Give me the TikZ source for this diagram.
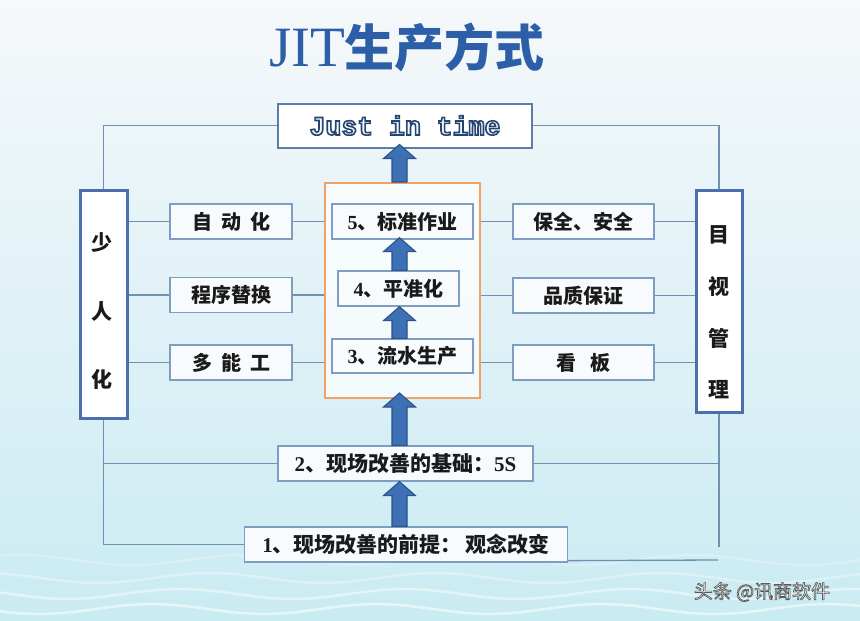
\documentclass[tikz,border=0pt]{standalone}
\usepackage{fontspec}
\setmainfont{Liberation Serif}
\newfontfamily\cjk{Noto Sans CJK SC}
\newfontfamily\jmono{Liberation Mono}
\usetikzlibrary{calc}
\definecolor{bgtop}{HTML}{F6F8FA}
\definecolor{bgmid}{HTML}{E8F4F7}
\definecolor{bgbot}{HTML}{C9EBF2}
\definecolor{lineblue}{HTML}{6F8FB3}
\definecolor{boxblue}{HTML}{7F9DC0}
\definecolor{sideblue}{HTML}{4B6FAE}
\definecolor{boxfill}{HTML}{F8FBFD}
\definecolor{orangeb}{HTML}{EFA266}
\definecolor{arrfill}{HTML}{3E70B6}
\definecolor{arrdraw}{HTML}{2B528D}
\definecolor{titleblue}{HTML}{2C5FA8}
\definecolor{txt}{HTML}{1A1A1A}
\definecolor{jitline}{HTML}{5A7EA8}
\definecolor{jitfill}{HTML}{F2F7FC}
% outlined text: fill colour from \textcolor, stroke set by PDF literal
\newcommand\outlinetext[4]{\textcolor{#2}{\special{pdf:literal direct #3 RG #4 w 2 Tr}#1\special{pdf:literal direct 0 Tr}}}
\newcommand\lat[1]{{\rmfamily\bfseries #1}}
\newcommand\barrow[2]{%
  \filldraw[arrfill, draw=arrdraw, line width=1.1pt] let \p1=(#1), \p2=(#2) in
    (\x1-7.5pt,\y1) -- (\x1-7.5pt,\y2-14pt) -- (\x1-16pt,\y2-14pt) -- (\x1,\y2)
    -- (\x1+16pt,\y2-14pt) -- (\x1+7.5pt,\y2-14pt) -- (\x1+7.5pt,\y1) -- cycle;}
\tikzset{
  conn/.style={draw=lineblue, line width=1.3pt},
  sbox/.style={draw=boxblue, line width=1.3pt, fill=boxfill, inner sep=0pt,
    font=\cjk\bfseries\fontsize{20}{24}\selectfont, text=txt},
  sidebox/.style={draw=sideblue, line width=3pt, fill=white, inner sep=0pt},
  sidetext/.style={font=\cjk\bfseries\fontsize{21}{25}\selectfont, text=txt, align=center, inner sep=0pt},
  wave/.style={white, line width=2.5pt, opacity=0.45},
}
\begin{document}
\begin{tikzpicture}[x=1pt,y=-1pt]
\useasboundingbox (0,0) rectangle (860,621);
% background
\shade[top color=bgtop, middle color=bgmid, bottom color=bgbot] (0,0) rectangle (860,621);
\foreach \yy/\op in {560/0.25,578/0.35,594/0.45,609/0.55}{
  \draw[wave, opacity=\op] plot[domain=0:860, samples=120] (\x, {\yy + 5*sin(\x*1.6+\yy*3)});
}
% title
\node[inner sep=0pt, text=titleblue] (title) at (407,47)
  {\fontsize{57}{60}\selectfont JIT\cjk\bfseries\fontsize{50}{54}\selectfont 生产方式};
% top box
\node[draw=jitline, line width=2pt, fill=white, minimum width=254pt, minimum height=44pt, inner sep=0pt] (jit) at (405,125.5)
  {\jmono\bfseries\fontsize{26.5}{30}\selectfont\outlinetext{Just in time}{jitfill}{0.14 0.27 0.44}{1.6}};
% side boxes
\node[sidebox, minimum width=47pt, minimum height=228pt] (shao) at (103.5,304) {};
\node[sidetext] (shaot) at (102,311.5) {少\\[43.5pt]人\\[43.5pt]化};
\node[sidebox, minimum width=46pt, minimum height=222pt] (mu) at (719,301) {};
\node[sidetext] (mut) at (719,312.5) {目\\[26.7pt]视\\[26.7pt]管\\[26.7pt]理};
% orange box
\node[draw=orangeb, line width=2pt, fill=white, fill opacity=0.7, minimum width=155pt, minimum height=215pt, inner sep=0pt] (orange) at (402.5,290.5) {};
% left boxes
\node[sbox, minimum width=122pt, minimum height=35pt] (zdh) at (231,221.5) {自\hspace{9pt}动\hspace{9pt}化};
\node[sbox, minimum width=122pt, minimum height=35pt] (cxth) at (231,295) {程序替换};
\node[sbox, minimum width=122pt, minimum height=35pt] (dng) at (231,362.5) {多\hspace{9pt}能\hspace{9pt}工};
% center boxes
\node[sbox, minimum width=141pt, minimum height=35pt] (b5) at (402.5,221.5) {\lat{5}、标准作业};
\node[sbox, minimum width=121pt, minimum height=35pt] (b4) at (398.5,288.5) {\lat{4}、平准化};
\node[sbox, minimum width=141pt, minimum height=34pt] (b3) at (402.5,356) {\lat{3}、流水生产};
% right boxes
\node[sbox, minimum width=141pt, minimum height=35pt] (bq) at (583.5,221.5) {保全、安全};
\node[sbox, minimum width=141pt, minimum height=35pt] (pz) at (583.5,295.5) {品质保证};
\node[sbox, minimum width=141pt, minimum height=35pt] (kb) at (583.5,362.5) {看\hspace{14pt}板};
% bottom boxes
\node[sbox, minimum width=255pt, minimum height=35pt, font=\cjk\bfseries\fontsize{21}{25}\selectfont] (b2) at (405.5,463.5) {\lat{2}、现场改善的基础：\lat{5S}};
\node[sbox, minimum width=323pt, minimum height=35pt, font=\cjk\bfseries\fontsize{21}{25}\selectfont] (b1) at (406,544.5) {\lat{1}、现场改善的前提：\hspace{4pt}观念改变};
% coordinates
\coordinate (ax) at (399.5,0);
\coordinate (rv) at (719,547);
\coordinate (rb) at (718,560);
% connectors
\draw[conn] (shao.north) -- (shao.north |- jit.west) -- (jit.west);
\draw[conn] (jit.east) -- (jit.east -| mu.north) -- (mu.north);
\foreach \n in {zdh,cxth,dng}{
  \draw[conn] (shao.east |- \n.west) -- (\n.west);
  \draw[conn] (\n.east) -- (\n.east -| orange.west);
}
\foreach \n in {bq,pz,kb}{
  \draw[conn] (orange.east |- \n.west) -- (\n.west);
  \draw[conn] (\n.east) -- (\n.east -| mu.west);
}
\draw[conn] (shao.south) -- (shao.south |- b1.west) -- (b1.west);
\draw[conn] (shao.south |- b2.west) -- (b2.west);
\draw[conn] (mu.south) -- (rv);
\draw[conn] (b2.east) -- (b2.east -| mu.south);
\draw[conn] ([yshift=2pt]b1.south east) -- (rb);
% block arrows
\barrow{b1.north -| ax}{b2.south -| ax}
\barrow{b2.north -| ax}{[yshift=6pt]orange.south -| ax}
\barrow{b3.north -| ax}{b4.south -| ax}
\barrow{b4.north -| ax}{[yshift=2pt]b5.south -| ax}
\barrow{orange.north -| ax}{[yshift=4pt]jit.south -| ax}
% watermark
\node[inner sep=0pt, font=\cjk\fontsize{19}{22}\selectfont] (wm) at (762,592)
  {\outlinetext{头条 @讯商软件}{white}{0.35 0.35 0.35}{0.7}};
\end{tikzpicture}
\end{document}
